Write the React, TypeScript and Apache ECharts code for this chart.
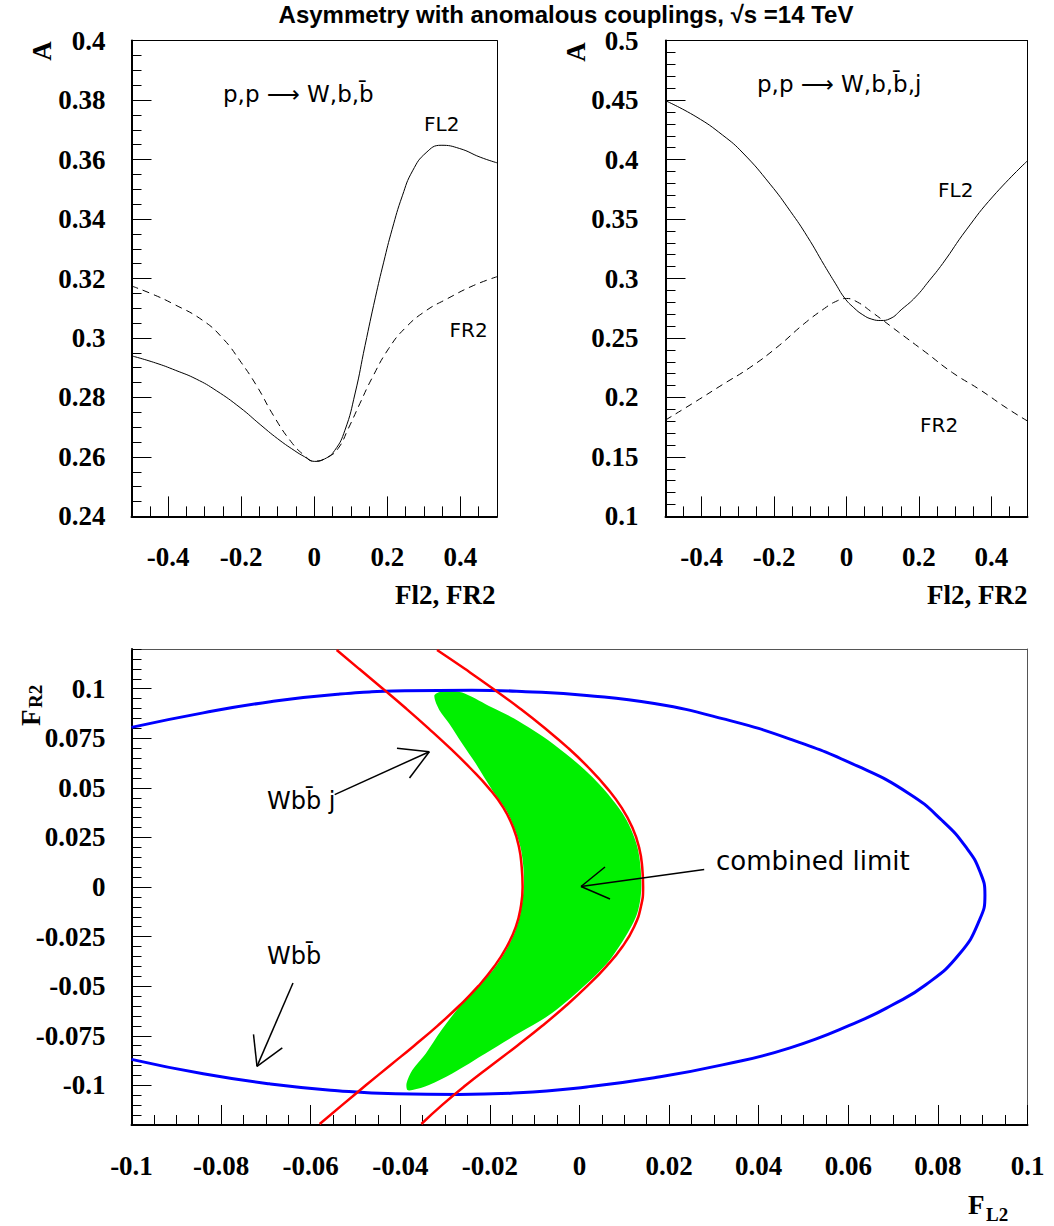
import React, { useEffect, useRef } from "react";
import * as echarts from "echarts";

// ---------- data ----------
const topMajorTicks = [-0.4, -0.2, 0, 0.2, 0.4];
const bottomYMajorTicks = [-0.1, -0.075, -0.05, -0.025, 0, 0.025, 0.05, 0.075, 0.1];

// top-left panel: p,p -> W,b,bbar
const tlFL2: [number, number][] = [
  [-0.5, 0.294], [-0.434, 0.2916], [-0.379, 0.2891], [-0.323, 0.2862], [-0.268, 0.2823],
  [-0.203, 0.2766], [-0.148, 0.2709], [-0.101, 0.2662], [-0.055, 0.2622], [-0.027, 0.2601],
  [0, 0.2585], [0.028, 0.2593], [0.056, 0.2622], [0.084, 0.269], [0.112, 0.2815],
  [0.139, 0.2975], [0.167, 0.3135], [0.19, 0.3255], [0.213, 0.3365], [0.241, 0.3478],
  [0.269, 0.3562], [0.306, 0.3623], [0.347, 0.3648], [0.398, 0.3637], [0.454, 0.3608],
  [0.5, 0.3589],
];
const tlFR2: [number, number][] = [
  [-0.5, 0.3175], [-0.444, 0.3148], [-0.388, 0.3116], [-0.305, 0.3059], [-0.249, 0.2997],
  [-0.203, 0.2923], [-0.157, 0.2838], [-0.111, 0.2738], [-0.064, 0.2652], [-0.027, 0.2605],
  [0, 0.2586], [0.035, 0.2598], [0.065, 0.2628], [0.093, 0.2695], [0.125, 0.278],
  [0.158, 0.2865], [0.204, 0.2965], [0.25, 0.3035], [0.306, 0.3092], [0.361, 0.313],
  [0.435, 0.3176], [0.5, 0.3206],
];

// top-right panel: p,p -> W,b,bbar,j
const trFL2: [number, number][] = [
  [-0.5, 0.4495], [-0.416, 0.4361], [-0.342, 0.4205], [-0.286, 0.4055], [-0.211, 0.3793],
  [-0.155, 0.3565], [-0.108, 0.3352], [-0.061, 0.311], [-0.03, 0.2955], [-0.005, 0.2835],
  [0.02, 0.2755], [0.045, 0.2695], [0.07, 0.2658], [0.095, 0.2647], [0.12, 0.2662],
  [0.153, 0.2742], [0.191, 0.2845], [0.228, 0.298], [0.2655, 0.3125], [0.331, 0.3409],
  [0.4055, 0.3693], [0.5, 0.399],
];
const trFR2: [number, number][] = [
  [-0.5, 0.181], [-0.416, 0.1967], [-0.342, 0.2109], [-0.267, 0.2251], [-0.192, 0.2422],
  [-0.117, 0.262], [-0.061, 0.2748], [-0.03, 0.2806], [0, 0.2832], [0.03, 0.2802],
  [0.069, 0.272], [0.144, 0.2549], [0.219, 0.2379], [0.293, 0.2208], [0.368, 0.2066],
  [0.443, 0.191], [0.5, 0.1802],
];

// bottom panel: limits in the (F_L2, F_R2) plane
const wbbEllipse: [number, number][] = [
  [-0.1, 0.0805], [-0.084, 0.0878], [-0.069, 0.0934], [-0.054, 0.0972], [-0.039, 0.0989],
  [-0.024, 0.0992], [-0.012, 0.0985], [0.0016, 0.0966], [0.0167, 0.0925], [0.0319, 0.0849],
  [0.047, 0.0746], [0.0621, 0.0609], [0.0735, 0.0472], [0.081, 0.0334], [0.0864, 0.0197],
  [0.0894, 0.0077], [0.0905, -0.004], [0.0893, -0.0166], [0.0848, -0.0338], [0.0773, -0.0493],
  [0.0697, -0.0596], [0.0621, -0.068], [0.047, -0.0811], [0.0319, -0.0897], [0.0167, -0.0962],
  [0.0016, -0.1008], [-0.0136, -0.1038], [-0.027, -0.1046], [-0.041, -0.1043], [-0.054, -0.1027],
  [-0.069, -0.0993], [-0.084, -0.0942], [-0.1, -0.0869],
];
const wbbjLeft: [number, number][] = [
  [-0.0542, 0.1195], [-0.0492, 0.11], [-0.0439, 0.1], [-0.0387, 0.09], [-0.0337, 0.08],
  [-0.0289, 0.07], [-0.0244, 0.06], [-0.0203, 0.05], [-0.017, 0.04], [-0.0148, 0.03],
  [-0.0135, 0.02], [-0.0129, 0.01], [-0.0127, 0.0], [-0.0131, -0.01], [-0.0142, -0.02],
  [-0.0162, -0.03], [-0.019, -0.04], [-0.0226, -0.05], [-0.0269, -0.06], [-0.0317, -0.07],
  [-0.0369, -0.08], [-0.0423, -0.09], [-0.0477, -0.1], [-0.053, -0.11], [-0.058, -0.1195],
];
const wbbjRight: [number, number][] = [
  [-0.0318, 0.1195], [-0.0256, 0.11], [-0.0193, 0.1], [-0.0133, 0.09], [-0.0077, 0.08],
  [-0.0025, 0.07], [0.0021, 0.06], [0.0061, 0.05], [0.0094, 0.04], [0.0118, 0.03],
  [0.0133, 0.02], [0.014, 0.01], [0.0142, 0.0], [0.0137, -0.01], [0.0122, -0.02],
  [0.0096, -0.03], [0.006, -0.04], [0.0017, -0.05], [-0.0031, -0.06], [-0.0083, -0.07],
  [-0.0139, -0.08], [-0.0197, -0.09], [-0.0254, -0.1], [-0.0307, -0.11], [-0.0353, -0.1195],
];
const combinedRegion: [number, number][] = [
  [-0.0324, 0.0965], [-0.031, 0.0985], [-0.0285, 0.0988], [-0.0255, 0.0975], [-0.0195, 0.0905],
  [-0.0146, 0.085], [-0.006, 0.0724], [0.0028, 0.0556], [0.0096, 0.0372], [0.0129, 0.0203],
  [0.0138, 0.0], [0.0126, -0.015], [0.0073, -0.0352], [0.0025, -0.0469], [-0.0062, -0.0637],
  [-0.0136, -0.0738], [-0.021, -0.0839], [-0.0284, -0.094], [-0.0336, -0.0998], [-0.0373, -0.1024],
  [-0.0384, -0.1024], [-0.0386, -0.099], [-0.0373, -0.0923], [-0.0343, -0.0839], [-0.0308, -0.0721],
  [-0.0262, -0.0587], [-0.0193, -0.0419], [-0.0152, -0.0267], [-0.0132, -0.0133], [-0.0124, 0.0035],
  [-0.0132, 0.0203], [-0.016, 0.0372], [-0.0195, 0.0489], [-0.0232, 0.0624], [-0.0262, 0.0724],
  [-0.0291, 0.0825], [-0.0313, 0.0893],
];

// ---------- styling helpers ----------
const SERIF = '"Liberation Serif", "Times New Roman", serif';
const SANS = '"DejaVu Sans", sans-serif';
const tickLabel = { fontFamily: SERIF, fontWeight: "bold", fontSize: 27, color: "#000" };

function mainX(grid: number, min: number, max: number, extra: any) {
  return {
    type: "value", gridIndex: grid, position: "bottom", min, max,
    axisLine: { show: true, onZero: false, lineStyle: { color: "#000", width: 2 } },
    splitLine: { show: false },
    ...extra,
  };
}
function borderAxis(kind: "x" | "y", grid: number, min: number, max: number, color = "#000") {
  return {
    type: "value", gridIndex: grid, position: kind === "x" ? "top" : "right", min, max,
    axisLine: { show: true, onZero: false, lineStyle: { color, width: 1 } },
    axisTick: { show: false }, axisLabel: { show: false }, splitLine: { show: false },
  };
}
function overlayAxis(kind: "x" | "y", grid: number, min: number, max: number, values: number[]) {
  return {
    type: "value", gridIndex: grid, position: kind === "x" ? "bottom" : "left", min, max,
    axisLine: { show: false, onZero: false },
    axisTick: { show: true, inside: true, length: 20, customValues: values, lineStyle: { color: "#000", width: 1 } },
    axisLabel: { show: false }, splitLine: { show: false },
  };
}

export default function App() {
  const ref = useRef<HTMLDivElement>(null);
  useEffect(() => {
    if (!ref.current) return;
    const chart = echarts.init(ref.current, undefined, { renderer: "svg" });

    const xAxes = [
      // 0..2 top-left
      mainX(0, -0.5, 0.5, {
        interval: 0.05,
        axisTick: { show: true, inside: true, length: 10, lineStyle: { color: "#000", width: 1 } },
        axisLabel: { ...tickLabel, margin: 27, customValues: topMajorTicks },
      }),
      overlayAxis("x", 0, -0.5, 0.5, topMajorTicks),
      borderAxis("x", 0, -0.5, 0.5),
      // 3..5 top-right
      mainX(1, -0.5, 0.5, {
        interval: 0.05,
        axisTick: { show: true, inside: true, length: 10, lineStyle: { color: "#000", width: 1 } },
        axisLabel: { ...tickLabel, margin: 27, customValues: topMajorTicks },
      }),
      overlayAxis("x", 1, -0.5, 0.5, topMajorTicks),
      borderAxis("x", 1, -0.5, 0.5),
      // 6..7 bottom
      mainX(2, -0.1, 0.1, {
        interval: 0.02,
        axisTick: { show: true, inside: true, length: 20, lineStyle: { color: "#000", width: 1 } },
        minorTick: { show: true, splitNumber: 4, length: 10, lineStyle: { color: "#000", width: 1 } },
        axisLabel: { ...tickLabel, margin: 27 },
      }),
      borderAxis("x", 2, -0.1, 0.1, "#555"),
    ];

    const yAxes = [
      // 0..1 top-left
      {
        type: "value", gridIndex: 0, position: "left", min: 0.24, max: 0.4, interval: 0.02,
        axisLine: { show: true, onZero: false, lineStyle: { color: "#000", width: 2 } },
        axisTick: { show: true, inside: true, length: 20, lineStyle: { color: "#000", width: 1 } },
        minorTick: { show: true, splitNumber: 4, length: 10, lineStyle: { color: "#000", width: 1 } },
        axisLabel: { ...tickLabel, margin: 26 },
        splitLine: { show: false },
      },
      borderAxis("y", 0, 0.24, 0.4),
      // 2..3 top-right
      {
        type: "value", gridIndex: 1, position: "left", min: 0.1, max: 0.5, interval: 0.05,
        axisLine: { show: true, onZero: false, lineStyle: { color: "#000", width: 2 } },
        axisTick: { show: true, inside: true, length: 20, lineStyle: { color: "#000", width: 1 } },
        minorTick: { show: true, splitNumber: 5, length: 10, lineStyle: { color: "#000", width: 1 } },
        axisLabel: { ...tickLabel, margin: 27 },
        splitLine: { show: false },
      },
      borderAxis("y", 1, 0.1, 0.5),
      // 4..6 bottom
      {
        type: "value", gridIndex: 2, position: "left", min: -0.12, max: 0.12, interval: 0.005,
        axisLine: { show: true, onZero: false, lineStyle: { color: "#000", width: 2 } },
        axisTick: { show: true, inside: true, length: 10, lineStyle: { color: "#000", width: 1 } },
        axisLabel: { ...tickLabel, margin: 26, customValues: bottomYMajorTicks },
        splitLine: { show: false },
      },
      overlayAxis("y", 2, -0.12, 0.12, bottomYMajorTicks),
      borderAxis("y", 2, -0.12, 0.12, "#555"),
    ];

    const ls = (color: string, type: any = "solid", width = 1) => ({ color, width, type });
    const curve = (x: number, y: number, data: [number, number][], lineStyle: any) => ({
      type: "line", xAxisIndex: x, yAxisIndex: y, data, showSymbol: false, symbol: "none",
      smooth: 0.5, lineStyle, z: 3,
    });

    const series: any[] = [
      curve(0, 0, tlFL2, ls("#000")),
      curve(0, 0, tlFR2, ls("#000", [7, 5])),
      curve(3, 2, trFL2, ls("#000")),
      curve(3, 2, trFR2, ls("#000", [7, 5])),
      {
        type: "custom", xAxisIndex: 6, yAxisIndex: 4, data: [[0, 0]], clip: true, z: 2,
        renderItem: (_p: any, api: any) => ({
          type: "polygon",
          shape: { points: combinedRegion.map((pt) => api.coord(pt)), smooth: 0.3 },
          style: { fill: "#00f000", stroke: "none" },
        }),
      },
      curve(6, 4, wbbEllipse, ls("#0000ff", "solid", 3)),
      curve(6, 4, wbbjLeft, ls("#ff0000", "solid", 2.5)),
      curve(6, 4, wbbjRight, ls("#ff0000", "solid", 2.5)),
    ];

    const txt = (text: string, x: number, y: number, font: string, align = "left", rotation = 0) => ({
      type: "text", x, y, rotation, silent: true, z: 100,
      style: { text, font, fill: "#000", align, verticalAlign: "middle" },
    });
    const seg = (x1: number, y1: number, x2: number, y2: number) => ({
      type: "line", silent: true, z: 100, shape: { x1, y1, x2, y2 }, style: { stroke: "#000", lineWidth: 1.5 },
    });

    const axisTitleFont = `bold 27px ${SERIF}`;
    const annFont = `23px ${SANS}`;
    const graphic = [
      txt("Asymmetry with anomalous couplings, \u221As =14 TeV", 566, 14, 'bold 24px "Liberation Sans", Arial, sans-serif', "center"),
      txt("A", 41.5, 51, axisTitleFont, "center", Math.PI / 2),
      txt("A", 576, 52, axisTitleFont, "center", Math.PI / 2),
      txt("Fl2, FR2", 495.5, 595, axisTitleFont, "right"),
      txt("Fl2, FR2", 1027.5, 595, axisTitleFont, "right"),
      txt("F", 968, 1205, axisTitleFont, "left"),
      txt("L2", 986, 1214, `bold 19px ${SERIF}`, "left"),
      txt("F", 30.5, 726, axisTitleFont, "left", Math.PI / 2),
      txt("R2", 35, 708, `bold 19px ${SERIF}`, "left", Math.PI / 2),
      txt("p,p \u27F6 W,b,b\u0304", 223, 94, annFont),
      txt("FL2", 424, 124, `20px ${SANS}`),
      txt("FR2", 449.5, 330, `20px ${SANS}`),
      txt("p,p \u27F6 W,b,b\u0304,j", 757, 84, annFont),
      txt("FL2", 938, 190, `20px ${SANS}`),
      txt("FR2", 920, 425, `20px ${SANS}`),
      txt("Wbb\u0304 j", 267, 801, `24px ${SANS}`),
      txt("Wbb\u0304", 267, 956, `24px ${SANS}`),
      txt("combined limit", 716, 861, `26px ${SANS}`),
      // arrows
      seg(334.7, 794.6, 429.3, 751.7), seg(429.3, 751.7, 397, 748.3), seg(429.3, 751.7, 409.5, 778),
      seg(293, 983, 257, 1066.4), seg(257, 1066.4, 253.5, 1034.3), seg(257, 1066.4, 282.3, 1047.8),
      seg(704.2, 869.4, 581, 886.5), seg(581, 886.5, 605, 867), seg(581, 886.5, 610, 899),
    ];

    chart.setOption({
      animation: false,
      backgroundColor: "#ffffff",
      grid: [
        { left: 131.5, top: 40.6, width: 365.5, height: 475.8 },
        { left: 665.5, top: 40.6, width: 362, height: 475.8 },
        { left: 131.5, top: 649, width: 896, height: 476 },
      ],
      xAxis: xAxes,
      yAxis: yAxes,
      series,
      graphic,
    });
    return () => chart.dispose();
  }, []);
  return (
    <div
      ref={ref}
      style={{ position: "absolute", left: 0, top: 0, width: 1054, height: 1226, background: "#fff" }}
    />
  );
}
